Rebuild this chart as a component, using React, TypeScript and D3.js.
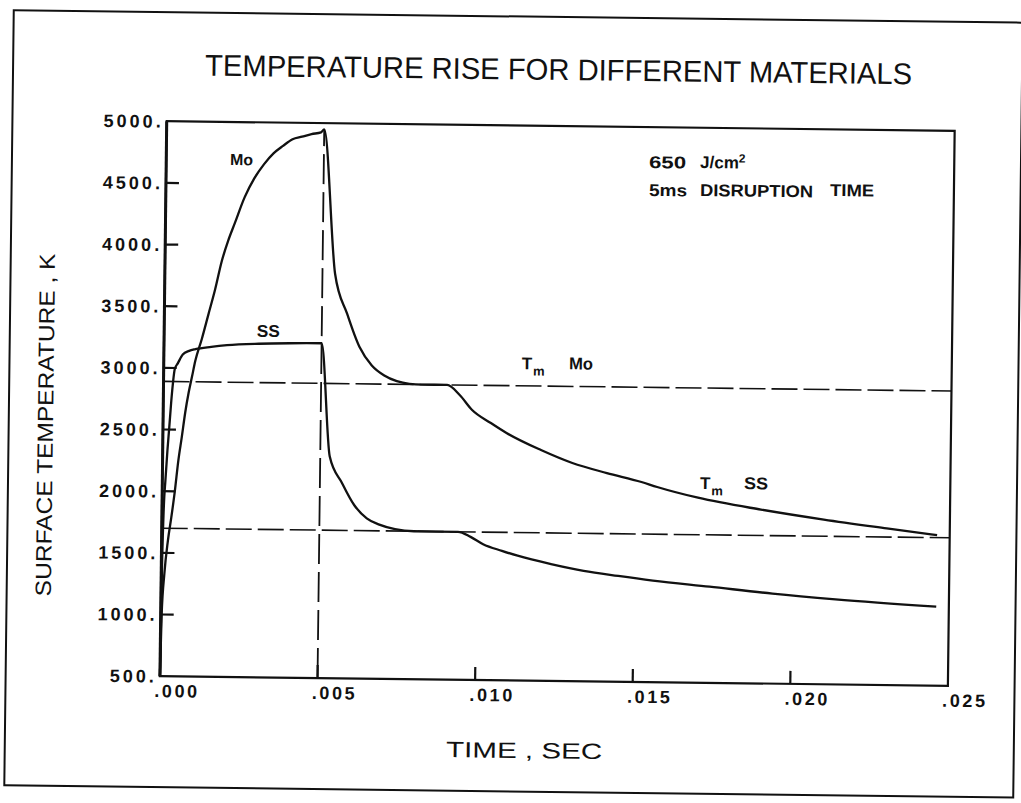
import React from 'react';
import * as d3 from 'd3';

// ---- data (time in s, surface temperature in K) ----
const moTime = [0, 0.00003, 0.0001, 0.0002, 0.0003, 0.0004, 0.0005, 0.0006, 0.0007, 0.0008, 0.0009, 0.001, 0.0012, 0.0014, 0.0016, 0.0018, 0.002, 0.0022, 0.0025, 0.0028, 0.0031, 0.0034, 0.0037, 0.004, 0.0043, 0.0046, 0.0049, 0.005, 0.0054, 0.0058, 0.0062, 0.0066, 0.007, 0.0074, 0.0078, 0.0082, 0.009, 0.0094, 0.0098, 0.0104, 0.0109, 0.012, 0.013, 0.0141, 0.0152, 0.0157, 0.017, 0.019, 0.021, 0.023, 0.0246];
const moTemp = [500, 1000, 1330, 1600, 1790, 2000, 2250, 2440, 2640, 2800, 2930, 3060, 3240, 3440, 3640, 3870, 4040, 4180, 4390, 4545, 4660, 4750, 4812, 4866, 4888, 4910, 4925, 4950, 3780, 3455, 3190, 3040, 2960, 2915, 2895, 2890, 2890, 2809, 2689, 2585, 2506, 2371, 2269, 2191, 2122, 2083, 2000, 1910, 1835, 1770, 1720];

const ssTime = [0, 0.00002, 0.00005, 0.0001, 0.00015, 0.0002, 0.00025, 0.0003, 0.00035, 0.00045, 0.0006, 0.0008, 0.001, 0.0015, 0.002, 0.003, 0.004, 0.005, 0.0053, 0.0057, 0.0061, 0.0065, 0.0069, 0.0074, 0.008, 0.0094, 0.0098, 0.0102, 0.0108, 0.0113, 0.0124, 0.0134, 0.0145, 0.0156, 0.0174, 0.0194, 0.0214, 0.0246];
const ssTemp = [500, 1300, 1800, 2100, 2330, 2520, 2720, 2880, 2990, 3040, 3110, 3140, 3155, 3175, 3190, 3205, 3212, 3215, 2300, 2085, 1905, 1800, 1750, 1715, 1700, 1700, 1660, 1602, 1550, 1512, 1446, 1396, 1358, 1324, 1280, 1230, 1190, 1140];

const meltMo = 2890;
const meltSS = 1700;
const disruptionTime = 0.005;

const xTicks = [0, 0.005, 0.01, 0.015, 0.02, 0.025];
const xTickLabels = ['.000', '.005', '.010', '.015', '.020', '.025'];
const yTicks = [500, 1000, 1500, 2000, 2500, 3000, 3500, 4000, 4500, 5000];
const yTickLabels = ['500.', '1000.', '1500.', '2000.', '2500.', '3000.', '3500.', '4000.', '4500.', '5000.'];

const title = 'TEMPERATURE RISE FOR DIFFERENT MATERIALS';
const xTitle = 'TIME , SEC';
const yTitle = 'SURFACE TEMPERATURE , K';

export default function App() {
  const W = 1021, H = 803;
  const L = 163.3, R = 951.3, T = 126, B = 681;
  const ANG = 0.7, CX = 557.3, CY = 403.5;
  const s = Math.sin((ANG * Math.PI) / 180);
  // convert a page position into the un-rotated frame of the drawing
  const P = (X: number, Y: number): [number, number] => [X + (Y - CY) * s, Y - (X - CX) * s];

  const x = d3.scaleLinear().domain([0, 0.025]).range([L, R]);
  const y = d3.scaleLinear().domain([500, 5000]).range([B, T]);
  const line = d3
    .line<[number, number]>()
    .x((d) => x(d[0]))
    .y((d) => y(d[1]))
    .curve(d3.curveMonotoneX);

  const mo: [number, number][] = moTime.map((t, i) => [t, moTemp[i]]);
  const ss: [number, number][] = ssTime.map((t, i) => [t, ssTemp[i]]);

  const bold = { fontFamily: '"Liberation Sans", Arial, sans-serif', fontWeight: 700 as const };
  const plain = { fontFamily: '"Liberation Sans", Arial, sans-serif', fontWeight: 400 as const };

  const pTitle = P(558.5, 80);
  const pY = P(53, 425);
  const pX = P(524, 758);
  const pMo = P(230, 165);
  const pSS = P(256.7, 336.7);
  const p650 = P(649, 168);
  const pJ = P(700, 168);
  const p5ms = P(649, 196);
  const pDis = P(700, 196);
  const pTime = P(830, 196);
  const pTmMoT = P(521.7, 369.3);
  const pTmMo = P(569, 369.3);
  const pTsT = P(700, 489);
  const pTsS = P(744, 489);

  return (
    <svg width={W} height={H} style={{ position: 'absolute', left: 0, top: 0, background: '#fff' }}>
      <rect x={0} y={0} width={W} height={H} fill="#fff" />
      <g transform={`rotate(${ANG} ${CX} ${CY})`}>
        {/* outer frame */}
        <rect x={9} y={17} width={1009} height={775} fill="none" stroke="#111" strokeWidth={2} />

        {/* title */}
        <text x={pTitle[0]} y={pTitle[1]} textAnchor="middle" fontSize={30} textLength={707} lengthAdjust="spacingAndGlyphs" fill="#111" style={plain}>
          {title}
        </text>

        {/* axis titles */}
        <text x={pX[0]} y={pX[1]} textAnchor="middle" fontSize={22} textLength={156} lengthAdjust="spacingAndGlyphs" fill="#111" style={plain}>
          {xTitle}
        </text>
        <text transform={`translate(${pY[0]},${pY[1]}) rotate(-90)`} textAnchor="middle" fontSize={22} textLength={343} lengthAdjust="spacingAndGlyphs" fill="#111" style={plain}>
          {yTitle}
        </text>

        {/* plot box */}
        <rect x={L} y={T} width={R - L} height={B - T} fill="none" stroke="#111" strokeWidth={2.2} />
        <line x1={L} x2={L} y1={T} y2={B} stroke="#111" strokeWidth={3} />

        {/* ticks */}
        {yTicks.slice(1, -1).map((v) => (
          <line key={'yt' + v} x1={L} x2={L + 13} y1={y(v)} y2={y(v)} stroke="#111" strokeWidth={2.2} />
        ))}
        {xTicks.slice(1, -1).map((v) => (
          <line key={'xt' + v} x1={x(v)} x2={x(v)} y1={B} y2={B - 13} stroke="#111" strokeWidth={2.2} />
        ))}

        {/* tick labels */}
        {yTicks.map((v, i) => (
          <text key={'yl' + v} x={L - 3} y={y(v)} dy="0.36em" textAnchor="end" fontSize={18} letterSpacing={3} fill="#111" style={bold}>
            {yTickLabels[i]}
          </text>
        ))}
        {xTicks.map((v, i) => (
          <text key={'xl' + v} x={x(v) - 5.5} y={B + 21} textAnchor="start" fontSize={18} letterSpacing={2.6} fill="#111" style={bold}>
            {xTickLabels[i]}
          </text>
        ))}

        {/* melting temperature lines */}
        <line x1={x(0)} x2={x(0.025)} y1={y(meltMo)} y2={y(meltMo)} stroke="#111" strokeWidth={1.6} strokeDasharray="26 6" />
        <line x1={x(0)} x2={x(0.025)} y1={y(meltSS)} y2={y(meltSS)} stroke="#111" strokeWidth={1.6} strokeDasharray="26 6" />

        {/* disruption time */}
        <line x1={x(disruptionTime)} x2={x(disruptionTime)} y1={y(500)} y2={y(4950)} stroke="#111" strokeWidth={1.8} strokeDasharray="30 8" />

        {/* curves */}
        <path d={line(mo) || ''} fill="none" stroke="#111" strokeWidth={2.3} strokeLinejoin="round" />
        <path d={line(ss) || ''} fill="none" stroke="#111" strokeWidth={2.3} strokeLinejoin="round" />

        {/* curve labels */}
        <text x={pMo[0]} y={pMo[1]} fontSize={16} textLength={23} lengthAdjust="spacingAndGlyphs" fill="#111" style={bold}>Mo</text>
        <text x={pSS[0]} y={pSS[1]} fontSize={17} textLength={23} lengthAdjust="spacingAndGlyphs" fill="#111" style={bold}>SS</text>

        {/* annotation */}
        <text x={p650[0]} y={p650[1]} fontSize={17} textLength={37} lengthAdjust="spacingAndGlyphs" fill="#111" style={bold}>650</text>
        <text x={pJ[0]} y={pJ[1]} fontSize={17} fill="#111" style={bold}>
          J/cm<tspan fontSize={12} dy={-6}>2</tspan>
        </text>
        <text x={p5ms[0]} y={p5ms[1]} fontSize={17} textLength={38} lengthAdjust="spacingAndGlyphs" fill="#111" style={bold}>5ms</text>
        <text x={pDis[0]} y={pDis[1]} fontSize={17} textLength={113} lengthAdjust="spacingAndGlyphs" fill="#111" style={bold}>DISRUPTION</text>
        <text x={pTime[0]} y={pTime[1]} fontSize={17} textLength={44} lengthAdjust="spacingAndGlyphs" fill="#111" style={bold}>TIME</text>

        {/* melting labels */}
        <text x={pTmMoT[0]} y={pTmMoT[1]} fontSize={17} fill="#111" style={bold}>
          T<tspan fontSize={13} dx={1} dy={6}>m</tspan>
        </text>
        <text x={pTmMo[0]} y={pTmMo[1]} fontSize={17} textLength={24} lengthAdjust="spacingAndGlyphs" fill="#111" style={bold}>Mo</text>
        <text x={pTsT[0]} y={pTsT[1]} fontSize={17} fill="#111" style={bold}>
          T<tspan fontSize={13} dx={1} dy={6}>m</tspan>
        </text>
        <text x={pTsS[0]} y={pTsS[1]} fontSize={17} textLength={24} lengthAdjust="spacingAndGlyphs" fill="#111" style={bold}>SS</text>
      </g>
    </svg>
  );
}
